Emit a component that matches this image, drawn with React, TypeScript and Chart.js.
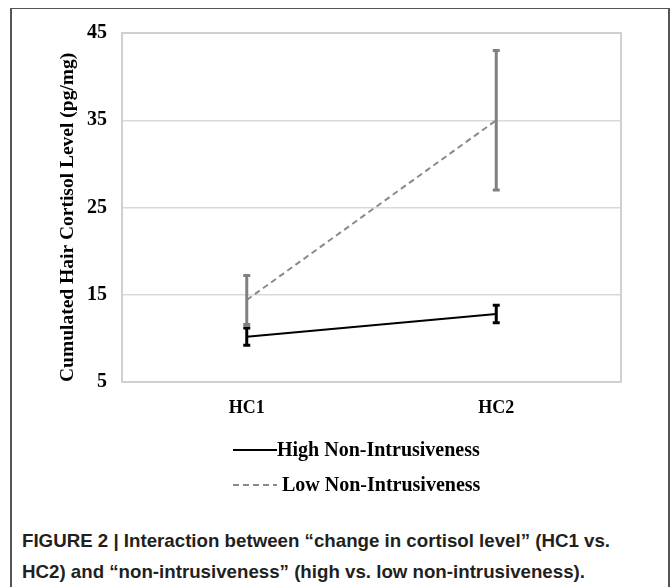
import React, { useEffect, useRef } from "react";
import { Chart, registerables } from "chart.js";

Chart.register(...registerables);

const categories = ["HC1", "HC2"];
const seriesNames = ["High Non-Intrusiveness", "Low Non-Intrusiveness"];
const highMeans = [10.2, 12.8];
const highErrors = [1.0, 1.0];
const lowMeans = [14.4, 35.0];
const lowErrors = [2.8, 8.0];
const yTicks = [5, 15, 25, 35, 45];
const yTitle = "Cumulated Hair Cortisol Level (pg/mg)";
const captionLines = [
  "FIGURE 2 | Interaction between \u201cchange in cortisol level\u201d (HC1 vs.",
  "HC2) and \u201cnon-intrusiveness\u201d (high vs. low non-intrusiveness).",
];

const SERIF = "'Liberation Serif', 'Times New Roman', serif";
const BLACK = "#000000";
const GRAY = "#8a8a8a";

const plotBorderPlugin = {
  id: "plotBorder",
  beforeDatasetsDraw(chart: any) {
    const { ctx, chartArea } = chart;
    ctx.save();
    ctx.strokeStyle = "#d0d0d0";
    ctx.lineWidth = 2;
    ctx.strokeRect(chartArea.left, chartArea.top, chartArea.right - chartArea.left, chartArea.bottom - chartArea.top);
    ctx.restore();
  },
};

const errorBarPlugin = {
  id: "errorBars",
  afterDatasetsDraw(chart: any) {
    const { ctx } = chart;
    const yScale = chart.scales.y;
    const order = [1, 0];
    order.forEach((di) => {
      const ds: any = chart.data.datasets[di];
      const meta = chart.getDatasetMeta(di);
      meta.data.forEach((pt: any, i: number) => {
        const x = pt.x;
        const yTop = yScale.getPixelForValue(ds.data[i] + ds.errors[i]);
        const yBot = yScale.getPixelForValue(ds.data[i] - ds.errors[i]);
        ctx.save();
        ctx.strokeStyle = ds.errorColor;
        ctx.lineWidth = 3;
        ctx.setLineDash([]);
        ctx.beginPath();
        ctx.moveTo(x, yTop);
        ctx.lineTo(x, yBot);
        ctx.moveTo(x - 3.5, yTop);
        ctx.lineTo(x + 3.5, yTop);
        ctx.moveTo(x - 3.5, yBot);
        ctx.lineTo(x + 3.5, yBot);
        ctx.stroke();
        ctx.restore();
      });
    });
  },
};

const legendPlugin = {
  id: "customLegend",
  afterDraw(chart: any) {
    const { ctx } = chart;
    const startX = 233;
    const lineLen = 44;
    const rows = [450, 485];
    chart.data.datasets.forEach((ds: any, i: number) => {
      const y = rows[i];
      ctx.save();
      ctx.strokeStyle = ds.borderColor;
      ctx.lineWidth = 2;
      ctx.setLineDash(ds.borderDash || []);
      ctx.beginPath();
      ctx.moveTo(startX, y);
      ctx.lineTo(startX + lineLen, y);
      ctx.stroke();
      ctx.setLineDash([]);
      ctx.fillStyle = "#000";
      ctx.font = `bold 20px ${SERIF}`;
      ctx.textBaseline = "middle";
      ctx.textAlign = "left";
      ctx.fillText(ds.label, startX + lineLen + (i === 0 ? 0 : 5), y + 1);
      ctx.restore();
    });
  },
};

function Caption() {
  const font = "bold 19px 'Liberation Sans', Arial, sans-serif";
  let scale = 1;
  if (typeof document !== "undefined") {
    const c = document.createElement("canvas").getContext("2d");
    if (c) {
      c.font = font;
      const w = c.measureText(captionLines[0]).width;
      if (w > 0) scale = 588 / w;
    }
  }
  return (
    <div
      style={{
        position: "absolute",
        left: 22,
        top: 525,
        font,
        lineHeight: "31px",
        color: "#231f20",
        whiteSpace: "nowrap",
        transform: `scaleX(${scale})`,
        transformOrigin: "left top",
      }}
    >
      {captionLines.map((l, i) => (
        <div key={i}>{l}</div>
      ))}
    </div>
  );
}

export default function App() {
  const canvasRef = useRef<HTMLCanvasElement | null>(null);

  useEffect(() => {
    if (!canvasRef.current) return;
    const chart = new Chart(canvasRef.current, {
      type: "line",
      data: {
        labels: categories,
        datasets: [
          {
            label: seriesNames[0],
            data: highMeans,
            errors: highErrors,
            errorColor: BLACK,
            borderColor: BLACK,
            borderWidth: 2,
            pointRadius: 0,
            fill: false,
            tension: 0,
          } as any,
          {
            label: seriesNames[1],
            data: lowMeans,
            errors: lowErrors,
            errorColor: "#808080",
            borderColor: GRAY,
            borderWidth: 2,
            borderDash: [6, 4],
            pointRadius: 0,
            fill: false,
            tension: 0,
          } as any,
        ],
      },
      options: {
        animation: false,
        responsive: false,
        maintainAspectRatio: false,
        layout: { padding: { left: 0, right: 49, top: 33, bottom: 80 } },
        plugins: { legend: { display: false }, tooltip: { enabled: false } },
        scales: {
          x: {
            type: "category",
            offset: true,
            grid: { display: false, drawTicks: false },
            border: { display: false },
            ticks: {
              color: BLACK,
              padding: 16,
              font: { family: SERIF, size: 18, weight: "bold" },
            },
            afterFit: (s: any) => {
              s.height = 38;
            },
          },
          y: {
            min: 5,
            max: 45,
            afterBuildTicks: (s: any) => {
              s.ticks = yTicks.map((v) => ({ value: v }));
            },
            grid: { color: "#d9d9d9", lineWidth: 1.5, drawTicks: false },
            border: { display: false },
            ticks: {
              color: BLACK,
              padding: 15,
              font: { family: SERIF, size: 20, weight: "bold" },
            },
            title: {
              display: true,
              text: yTitle,
              align: "start",
              color: BLACK,
              font: { family: SERIF, size: 19.5, weight: "bold" },
              padding: { top: 56, bottom: 0 },
            },
            afterFit: (s: any) => {
              s.width = 122;
            },
          },
        },
      },
      plugins: [plotBorderPlugin, errorBarPlugin, legendPlugin],
    } as any);
    return () => chart.destroy();
  }, []);

  return (
    <div
      style={{
        position: "fixed",
        left: 0,
        top: 0,
        width: 670,
        height: 587,
        background: "#fff",
        overflow: "hidden",
      }}
    >
      <div
        style={{
          position: "absolute",
          left: 10,
          top: 8,
          width: 656,
          height: 620,
          borderTop: "1.5px solid #555",
          borderLeft: "2px solid #555",
          borderRight: "2px solid #555",
        }}
      />
      <canvas
        ref={canvasRef}
        width={670}
        height={500}
        style={{ position: "absolute", left: 0, top: 0, width: 670, height: 500, display: "block" }}
      />
      <Caption />
    </div>
  );
}
